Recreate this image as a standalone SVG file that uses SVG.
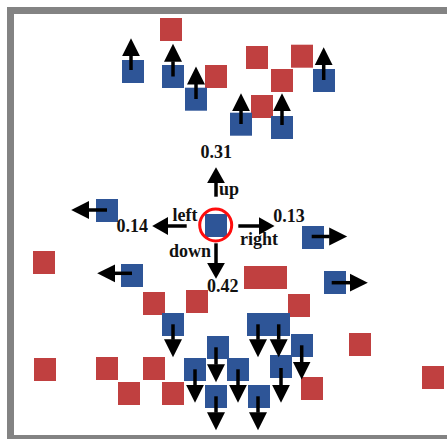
<svg xmlns="http://www.w3.org/2000/svg" width="447" height="439" viewBox="0 0 447 439">
<style>
.r{fill:#c04040}
.b{fill:#2e5597}
.c line{stroke:#000;stroke-width:3.5}
.o line{marker-end:url(#h)}
.m line{marker-end:url(#hs)}
text{font-family:"Liberation Serif","Times New Roman",serif;font-weight:bold;font-size:18px;fill:#111}
</style>
<defs>
<marker id="h" markerUnits="userSpaceOnUse" markerWidth="19" markerHeight="19" viewBox="0 -9.5 19 19" refX="0.5" refY="0" orient="auto"><path d="M0,-9 L18,0 L0,9 Z" fill="#000"/></marker>
<marker id="hs" markerUnits="userSpaceOnUse" markerWidth="17" markerHeight="19" viewBox="0 -9.5 17 19" refX="0.5" refY="0" orient="auto"><path d="M0,-9 L16,0 L0,9 Z" fill="#000"/></marker>
</defs>
<rect x="10.5" y="10.5" width="500" height="428" fill="#fff" stroke="#838383" stroke-width="7"/>
<g id="reds">
<rect id="r1" class="r" x="160" y="18" width="22" height="23"/>
<rect id="r2" class="r" x="205" y="65" width="22" height="23"/>
<rect id="r3" class="r" x="246" y="46" width="22" height="23"/>
<rect id="r4" class="r" x="291" y="44.7" width="22" height="23"/>
<rect id="r5" class="r" x="271" y="69" width="22" height="23"/>
<rect id="r6" class="r" x="251" y="95" width="22" height="23"/>
<rect id="r7" class="r" x="33" y="251" width="22" height="23"/>
<rect id="r8" class="r" x="244" y="266" width="22" height="23"/>
<rect id="r9" class="r" x="265" y="266" width="22" height="23"/>
<rect id="r10" class="r" x="143" y="292" width="22" height="23"/>
<rect id="r11" class="r" x="186" y="290" width="22" height="23"/>
<rect id="r12" class="r" x="288" y="294" width="22" height="23"/>
<rect id="r13" class="r" x="349" y="333" width="22" height="23"/>
<rect id="r14" class="r" x="34" y="358" width="22" height="23"/>
<rect id="r15" class="r" x="96" y="357" width="22" height="23"/>
<rect id="r16" class="r" x="143" y="357" width="22" height="23"/>
<rect id="r17" class="r" x="301" y="377" width="22" height="23"/>
<rect id="r18" class="r" x="422" y="366" width="22" height="23"/>
<rect id="r19" class="r" x="118" y="382" width="22" height="23"/>
<rect id="r20" class="r" x="162" y="382" width="22" height="23"/>
</g>
<g id="blues">
<rect id="b1" class="b" x="122" y="60" width="22" height="23"/>
<rect id="b2" class="b" x="162" y="65" width="22" height="23"/>
<rect id="b3" class="b" x="185" y="87.7" width="22" height="23"/>
<rect id="b4" class="b" x="313" y="69" width="22" height="23"/>
<rect id="b5" class="b" x="230" y="112.7" width="22" height="23"/>
<rect id="b6" class="b" x="271" y="116" width="22" height="23"/>
<rect id="b7" class="b" x="96" y="199" width="22" height="23"/>
<rect id="b8" class="b" x="121" y="264" width="22" height="23"/>
<rect id="b9" class="b" x="302" y="226" width="22" height="23"/>
<rect id="b10" class="b" x="324" y="271" width="22" height="23"/>
<rect id="b11" class="b" x="162" y="313" width="22" height="23"/>
<rect id="b12" class="b" x="247" y="313" width="22" height="23"/>
<rect id="b13" class="b" x="268" y="313" width="22" height="23"/>
<rect id="b14" class="b" x="291" y="334" width="22" height="23"/>
<rect id="b15" class="b" x="207" y="336" width="22" height="23"/>
<rect id="b16" class="b" x="184" y="358" width="22" height="23"/>
<rect id="b17" class="b" x="227" y="358" width="22" height="23"/>
<rect id="b18" class="b" x="270" y="355" width="22" height="23"/>
<rect id="b19" class="b" x="205" y="385" width="22" height="23"/>
<rect id="b20" class="b" x="248" y="385" width="22" height="23"/>
</g>
<g id="agent">
<rect class="b" x="205" y="214" width="22" height="23"/>
<circle cx="215.7" cy="225" r="16" fill="none" stroke="#ff0d0d" stroke-width="3"/>
</g>
<g id="connectors" class="c">
<g class="o">
<line x1="131" y1="70" x2="131" y2="55.7"/>
<line x1="173" y1="76.5" x2="173" y2="61.3"/>
<line x1="196" y1="99" x2="196" y2="84"/>
<line x1="323.7" y1="80" x2="323.7" y2="64.7"/>
<line x1="241" y1="124" x2="241" y2="110.7"/>
<line x1="282" y1="125" x2="282" y2="110.7"/>
<line x1="173" y1="324.3" x2="173" y2="339.7"/>
<line x1="258" y1="324.3" x2="258" y2="339.7"/>
<line x1="278.7" y1="324.3" x2="278.7" y2="339.7"/>
<line x1="301.7" y1="345.3" x2="301.7" y2="362"/>
<line x1="216" y1="347.3" x2="216" y2="364.7"/>
<line x1="195" y1="369.3" x2="195" y2="385.3"/>
<line x1="238" y1="369.3" x2="238" y2="385.3"/>
<line x1="281" y1="368" x2="281" y2="385.3"/>
<line x1="216" y1="396.3" x2="216" y2="412.7"/>
<line x1="258" y1="396.3" x2="258" y2="412.7"/>
<line x1="107" y1="210" x2="88.7" y2="210"/>
<line x1="132" y1="273.3" x2="114.7" y2="273.3"/>
<line x1="311.7" y1="236.5" x2="329.7" y2="236.5"/>
<line x1="331.7" y1="282.7" x2="350.3" y2="282.7"/>
</g>
<g class="m">
<line x1="216" y1="196.7" x2="216" y2="182.7"/>
<line x1="186.7" y1="226" x2="167.7" y2="226"/>
<line x1="238.3" y1="226" x2="259" y2="226"/>
<line x1="216" y1="243.3" x2="216" y2="263.3"/>
</g>
</g>
<g id="labels">
<text x="216.3" y="158.3" text-anchor="middle">0.31</text>
<text x="219" y="195">up</text>
<text x="197.5" y="220.7" text-anchor="end">left</text>
<text x="116.5" y="232.3">0.14</text>
<text x="273.3" y="221.7">0.13</text>
<text x="240" y="245">right</text>
<text x="169" y="257.3">down</text>
<text x="207" y="292.3">0.42</text>
</g>
</svg>
